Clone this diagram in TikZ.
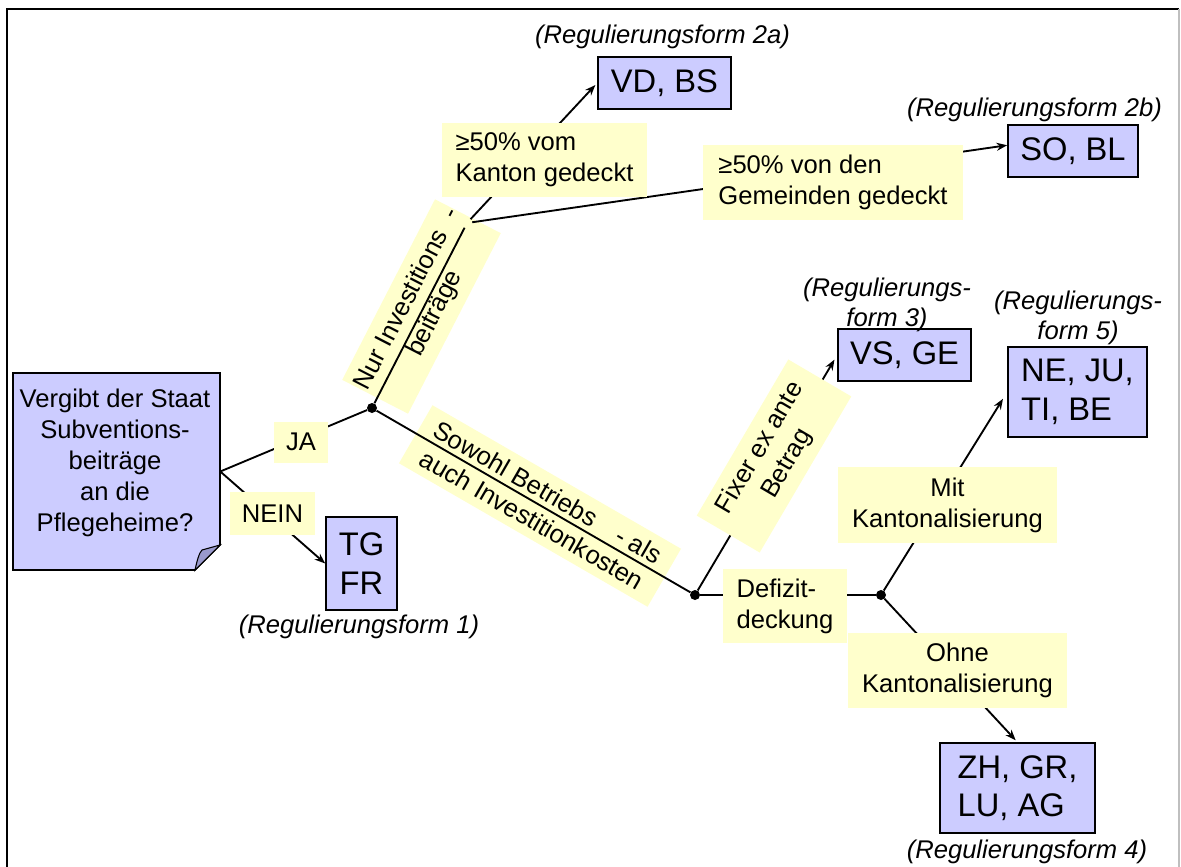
\documentclass[tikz,border=0pt]{standalone}
\usepackage{fontspec}
\setmainfont{Liberation Sans}
\usetikzlibrary{arrows.meta}
\definecolor{boxblue}{HTML}{CCCCFF}
\definecolor{lblyellow}{HTML}{FFFFCC}
\definecolor{foldblue}{HTML}{9999CC}
\begin{document}
\begin{tikzpicture}[x=0.75pt,y=-0.75pt,
  sz/.style 2 args={minimum width=#1*0.75pt,minimum height=#2*0.75pt},
  conn/.style={line width=1.4pt},
  arr/.style={conn,-{Stealth[length=8pt,width=6pt]}},
  dot/.style={circle,fill=black,inner sep=0pt,minimum size=7.5pt},
  lbl/.style={fill=lblyellow,inner sep=0pt,font=\fontsize{19.2}{23.3}\selectfont,align=center},
  lbll/.style={lbl,align=left},
  cbox/.style={draw=black,line width=1.2pt,fill=boxblue,inner sep=0pt,font=\fontsize{24.5}{28.8}\selectfont,align=center},
  cboxl/.style={cbox,align=left},
  reg/.style={inner sep=0pt,font=\fontsize{19.2}{22.5}\selectfont\itshape,align=center},
  notetext/.style={inner sep=0pt,font=\fontsize{19.2}{23.3}\selectfont,align=center},
]
\useasboundingbox (0,0) rectangle (1181,867);
% frame
\draw[line width=1.8pt] (7,867) -- (7,9) -- (1179,9);
\draw[black!25,line width=0.8pt] (1179,9) -- (1179,867);

% note
\node[sz={207}{197},inner sep=0pt] (q) at (116.5,471.5) {};
\filldraw[fill=boxblue,line width=1.2pt] (13,373) -- (220,373) -- (220,545) -- (195,570) -- (13,570) -- cycle;
\filldraw[fill=foldblue,line width=0.8pt] (195,570) .. controls (197,561) and (199,553) .. (202,550) -- (220,545) -- cycle;
\node[notetext] (qt) at (115,463) {Vergibt der Staat\\Subventions-\\beiträge\\an die\\Pflegeheime?};

% result boxes
\node[cbox,sz={133}{52}] (vd) at (664.5,83) {VD, BS};
\node[cbox,sz={130}{52}] (so) at (1073,151) {SO, BL};
\node[cbox,sz={133}{52}] (vs) at (904.5,355) {VS, GE};
\node[cboxl,sz={139}{90}] (ne) at (1077.5,392) {NE, JU,\\TI, BE};
\node[cboxl,sz={155}{90}] (zh) at (1017.5,788) {ZH, GR,\\LU, AG};
\node[cbox,sz={71}{93}] (tg) at (361.5,563.5) {TG\\FR};

% junctions
\node[dot] (j1) at (372,408) {};
\node[dot] (j2) at (467,223) {};
\node[dot] (j3) at (695,595) {};
\node[dot] (j4) at (881,595) {};

% labels lying under their lines
\node[lbl,sz={203}{74},rotate=62.8] (nur) at (421.5,306.5) {Nur Investitions\hspace{0.6em}-\\beiträge};
\node[lbl,sz={287}{67},rotate=-30] (sowohl) at (540,506) {Sowohl Betriebs\hspace{1em}- als\\auch Investitionkosten};

% connectors
\draw[conn] (q.east) -- (j1);
\draw[arr] (q.east) -- (tg.west);
\draw[conn] (j1) -- (j2);
\draw[arr,shorten >=2pt] (j2) -- (vd.west);
\draw[arr] (j2) -- (so.175);
\draw[conn] (j1) -- (j3);
\draw[arr,shorten >=4pt] (j3) -- (vs.west);
\draw[conn] (j3) -- (j4);
\draw[arr,shorten >=6pt] (j4) -- (ne.west);
\draw[arr,shorten >=2pt] (j4) -- (zh.north);

% labels on top of their lines
\node[lbl,sz={54}{41}] (ja) at (301,442) {JA};
\node[lbl,sz={85}{43}] (nein) at (272.5,513.5) {NEIN};
\node[lbll,sz={205}{74}] (kanton) at (544.5,160) {≥50\% vom\\Kanton gedeckt};
\node[lbll,sz={260}{75}] (gemeinden) at (833,182.5) {≥50\% von den\\Gemeinden gedeckt};
\node[lbl,sz={181}{73},rotate=59.6] (fixer) at (774,456) {Fixer ex ante\\Betrag};
\node[lbll,sz={124}{74}] (defizit) at (785,606) {Defizit-\\deckung};
\node[lbl,sz={219}{76}] (mit) at (947.5,505) {Mit\\Kantonalisierung};
\node[lbl,sz={219}{75}] (ohne) at (957.5,670.5) {Ohne\\Kantonalisierung};

% regulation forms
\node[reg] (r2a) at (662.5,37) {(Regulierungsform 2a)};
\node[reg] (r2b) at (1034.5,110) {(Regulierungsform 2b)};
\node[reg] (r3) at (887,305) {(Regulierungs-\\form 3)};
\node[reg] (r5) at (1078,317.5) {(Regulierungs-\\form 5)};
\node[reg] (r1) at (359,627) {(Regulierungsform 1)};
\node[reg] (r4) at (1027,852) {(Regulierungsform 4)};
\end{tikzpicture}
\end{document}
